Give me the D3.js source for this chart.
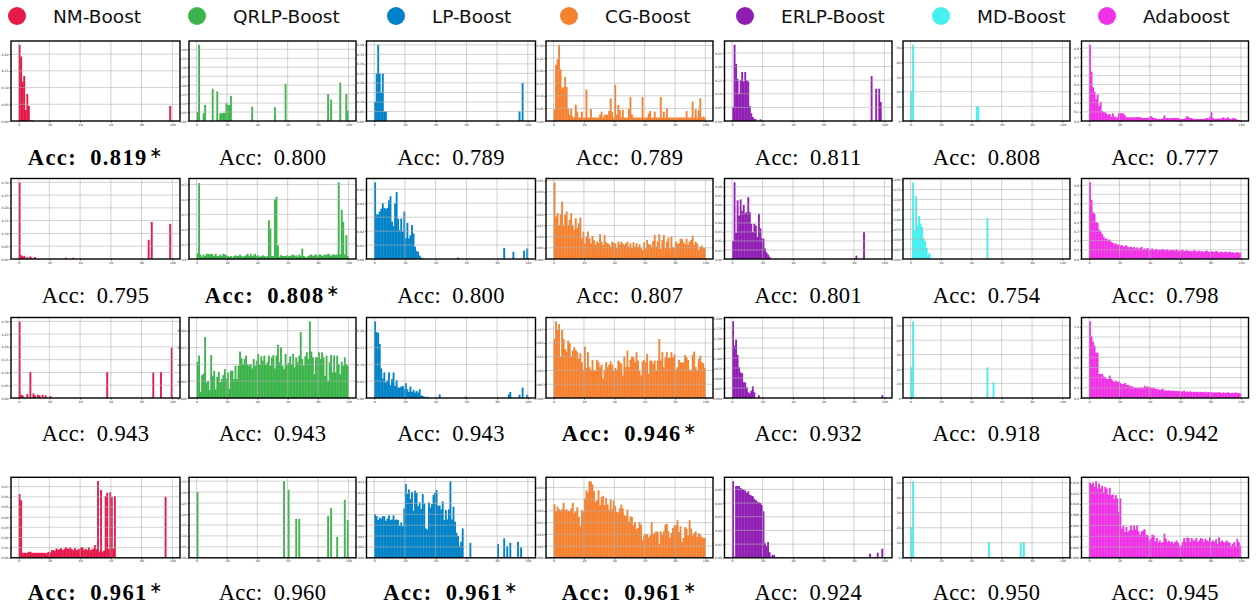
<!DOCTYPE html>
<html>
<head>
<meta charset="utf-8">
<script src="https://cdn.jsdelivr.net/npm/d3@7/dist/d3.min.js"></script>
<style>
  html, body { margin: 0; padding: 0; background: #fff; }
  svg { display: block; }
</style>
</head>
<body>
<svg id="chart" width="1256" height="607"></svg>
<script>
// ---- methods and colours ----
const methods = ["NM-Boost", "QRLP-Boost", "LP-Boost", "CG-Boost", "ERLP-Boost", "MD-Boost", "Adaboost"];
const colors = ["#e6194b", "#3cb44b", "#0082c8", "#f58231", "#911eb4", "#46f0f0", "#f032e6"];

// ---- test accuracy per dataset (row) and method (column) ----
const accR1 = [0.819, 0.800, 0.789, 0.789, 0.811, 0.808, 0.777];
const accR2 = [0.795, 0.808, 0.800, 0.807, 0.801, 0.754, 0.798];
const accR3 = [0.943, 0.943, 0.943, 0.946, 0.932, 0.918, 0.942];
const accR4 = [0.961, 0.960, 0.961, 0.961, 0.924, 0.950, 0.945];

// ---- x ticks (bin index, 100 bins) ----
const xTicks = [0, 20, 40, 60, 80, 100];

// ---- y tick step per panel (value of one grid step) ----
const yStepR1 = [0.05, 0.05, 0.05, 0.05, 0.05, 10, 0.1];
const yStepR2 = [0.05, 0.1, 0.01, 0.005, 0.01, 0.025, 0.1];
const yStepR3 = [0.05, 0.005, 0.05, 0.005, 0.025, 10, 0.2];
const yStepR4 = [0.01, 0.05, 0.002, 0.005, 0.01, 10, 0.002];

// ---- histograms, heights in grid steps.
//      Dense: 100 bin heights. Sparse: [bin, height] pairs. ----
const nmR1 = [[0,4.56],[1,3.86],[2,2.36],[3,2.7],[4,0.66],[5,1.62],[6,0.9],[8,0.06],[98,0.9]];
const qrlpR1 = [[0,1.0],[1,8.5],[4,0.85],[5,1.8],[10,3.6],[13,3.3],[15,0.85],[16,0.85],[17,0.9],[18,0.9],[19,2.0],[20,1.8],[21,1.8],[22,2.8],[36,1.6],[51,1.55],[58,4.15],[86,3.0],[88,2.4],[94,4.3],[98,3.0],[99,1.15]];
const lpR1 = [[0,2],[1,5],[2,8],[3,5],[4,3],[5,5],[6,1],[7,1],[94,1],[96,4]];
const cgR1 = [0.93,4.46,4.9,6.05,4.1,2.6,2.7,3.5,2.7,1.0,
  0.5,0.95,0.35,0.27,1.3,0.74,0.27,0.27,0.74,0.27,
  0.27,2.5,0.27,0.27,0.95,0.27,0.27,0.27,0.27,0.27,
  0.5,0.74,0.27,0.5,0.5,0.5,0.8,1.8,0.7,0.27,
  2.87,0.5,1.27,0.85,0.27,0.88,0.27,0.27,0.27,0.95,
  1.9,0.5,0.27,0.27,0.27,0.27,0.27,0.27,1.9,0.27,
  0.27,0.27,0.6,0.8,0.27,0.27,0.74,0.27,0.27,0.27,
  1.9,0.27,0.74,0.27,0.98,0.27,0.27,0.27,0.27,0.27,
  0.27,0.27,0.27,0.27,0.27,0.27,0.27,0.8,0.27,0.27,
  0.27,1.54,0.27,0.93,0.27,0.85,1.8,0.27,0.35,0.27];
const erlpR1 = [[0,1.0],[1,5.6],[2,4.2],[3,3.1],[4,2.0],[5,3.0],[6,3.6],[7,2.9],[8,3.6],[9,3.0],[10,2.9],[11,1.1],[12,0.57],[13,0.3],[14,0.15],[15,0.12],[18,0.12],[91,3.3],[94,2.37],[96,2.37],[97,1.4]];
const mdR1 = [[0,2.05],[1,5.2],[43,1.0],[44,1.0]];
const adaR1 = [8.35,5.4,3.7,3.2,2.4,2.9,1.65,2.1,1.1,0.95,
  0.95,0.8,0.66,0.77,0.48,0.84,0.5,0.4,0.4,0.84,
  0.84,0.84,0.84,0.62,0.4,0.4,0.4,0.4,0.4,0.4,
  0.4,0.45,0.4,0.45,0.33,0.33,0.33,0.33,0.33,0.4,
  0.55,0.4,0.33,0.33,0.22,0.22,0.22,0.22,0.3,0.62,
  0.3,0.33,0.3,0.3,0.33,0.33,0.33,0.33,0.33,0.25,
  0.22,0.22,0.22,0.33,0.55,0.4,0.33,0.33,0.22,0.22,
  0.22,0.22,0.22,0.22,0.22,0.22,0.3,0.33,0.25,0.48,
  0.95,0.33,0.22,0.26,0.26,0.26,0.26,0.3,0.4,0.26,
  0.3,0.4,0.22,0.22,0.3,0.33,0.22,0.15,0.11,0.11];

const nmR2 = [[0,6.0],[1,0.3],[2,0.2],[3,0.25],[5,0.15],[7,0.2],[8,0.1],[10,0.15],[30,0.1],[35,0.1],[84,1.5],[86,2.9],[98,2.75]];
const qrlpR2 = [0.4,5.1,0.29,0.15,0.29,0.2,0.35,0.35,0.3,0.35,
  0.3,0.2,0.35,0.2,0.2,0.3,0.2,0.35,0.3,0.25,
  0.2,0.15,0.2,0.1,0.2,0.25,0.2,0.2,0.3,0.2,
  0.15,0.2,0.25,0.35,0.2,0.35,0.2,0.25,0.35,0.2,
  0.25,0.15,0.2,0.25,0.2,0.15,0.2,2.6,2.07,0.2,
  0.2,4.0,4.17,0.9,0.15,0.25,0.2,0.2,0.2,0.25,
  0.2,0.2,0.25,0.3,0.2,0.25,0.15,0.3,0.2,0.7,
  0.2,0.15,0.1,0.2,0.25,0.3,0.2,0.25,0.3,0.2,
  0.3,0.3,0.2,0.25,0.3,0.25,0.35,0.3,0.2,0.3,
  0.3,0.25,0.3,5.15,0.3,3.3,2.5,0.3,1.6,0.2];
const lpR2 = [[0,5.5],[1,3.2],[2,3.2],[3,3.4],[4,3.6],[5,4.0],[6,3.67],[7,3.6],[8,3.67],[9,4.2],[10,4.5],[11,2.67],[12,2.36],[13,4.0],[14,4.8],[15,2.9],[16,2.07],[17,2.9],[18,2.0],[19,3.4],[20,1.48],[21,2.6],[22,1.48],[23,1.7],[24,2.43],[25,1.83],[26,0.88],[27,0.57],[28,0.52],[29,0.24],[30,0.1],[31,0.05],[54,0.1],[84,0.8],[90,0.52],[97,0.6],[99,0.76]];
const cgR2 = [6.84,3.79,4.09,3.04,4.0,5.13,3.04,3.94,4.24,3.04,
  3.49,4.09,3.04,2.6,3.64,2.75,3.19,3.7,1.85,2.45,
  1.4,2.0,2.45,1.85,1.4,2.06,1.67,1.25,1.55,1.4,
  2.21,1.55,1.25,2.15,1.49,1.4,1.31,1.1,1.55,1.43,
  1.4,1.01,1.55,1.31,1.55,1.37,1.25,1.4,1.55,1.07,
  1.4,1.01,1.49,1.1,1.4,1.07,1.31,1.01,0.78,1.49,
  0.96,1.7,1.31,1.31,1.1,1.61,2.15,1.1,1.55,2.21,
  0.9,1.7,2.15,1.01,1.55,1.91,0.96,1.97,1.07,1.01,
  1.55,1.37,1.4,1.82,1.76,1.49,1.31,1.82,1.25,1.55,
  1.7,2.09,1.25,1.55,1.37,0.81,1.1,1.19,1.01,0.96];
const erlpR2 = [[0,2.0],[1,8.5],[2,2.9],[3,6.5],[4,4.8],[5,6.6],[6,5.3],[7,6.0],[8,5.1],[9,5.2],[10,6.85],[11,5.2],[12,3.9],[13,3.0],[14,3.9],[15,3.7],[16,2.45],[17,5.0],[18,3.4],[19,2.3],[20,2.25],[21,1.17],[22,0.73],[23,0.5],[24,0.25],[81,0.37],[86,3.0]];
const mdR2 = [[1,7.73],[2,2.9],[3,6.33],[4,3.4],[5,4.33],[6,3.57],[7,3.23],[8,2.07],[9,1.8],[10,1.13],[11,0.47],[12,0.57],[50,4.13]];
const adaR2 = [8.3,6.4,5.1,4.9,4.0,3.9,3.2,3.0,2.7,2.4,
  2.2,2.2,2.0,2.1,1.85,1.75,1.6,1.7,1.5,1.6,
  1.45,1.5,1.35,1.4,1.5,1.3,1.25,1.35,1.2,1.3,
  1.15,1.25,1.1,1.2,1.3,1.05,1.15,1.1,1.2,1.0,
  1.1,1.15,1.0,1.05,1.1,0.95,1.05,1.0,1.1,0.95,
  1.0,1.05,0.9,1.0,0.95,1.0,0.9,1.05,0.85,0.95,
  0.9,1.0,0.85,0.9,0.95,0.85,0.9,0.8,0.9,0.95,
  0.8,0.85,0.9,0.8,0.85,0.75,0.85,0.9,0.8,0.75,
  0.85,0.8,0.75,0.85,0.8,0.7,0.8,0.75,0.7,0.8,
  0.75,0.7,0.8,0.7,0.75,0.65,0.7,0.75,0.65,0.7];

const nmR3 = [[0,6.0],[1,0.25],[2,0.2],[5,0.3],[7,2.05],[9,0.35],[10,0.2],[12,0.25],[13,0.2],[15,0.25],[17,0.2],[20,0.15],[57,2.05],[87,2.0],[92,2.05],[99,3.95]];
const qrlpR3 = [2.16,2.52,0.36,1.36,1.46,3.62,0.92,1.02,0.48,2.56,
  1.32,1.62,0.52,1.26,1.56,0.92,1.12,1.36,1.72,1.16,
  1.52,0.56,1.62,1.62,1.12,1.92,1.12,1.92,2.76,2.36,
  2.02,2.32,2.52,2.02,1.92,2.02,1.76,2.32,1.92,2.22,
  2.62,2.02,2.48,2.22,2.52,2.02,2.12,2.52,1.92,2.42,
  2.56,1.76,2.52,3.16,2.12,3.02,1.92,1.72,2.62,1.96,
  2.08,2.48,2.02,2.62,1.82,2.42,2.12,2.52,3.92,2.32,
  1.92,2.48,2.72,2.32,4.56,2.76,2.42,1.42,2.42,2.42,
  2.72,2.32,2.72,2.42,1.32,2.52,1.02,2.12,2.56,1.52,
  2.52,1.52,2.52,2.02,1.42,2.16,1.92,2.42,2.02,1.92];
const lpR3 = [[0,4.56],[1,3.92],[2,3.88],[3,3.22],[4,1.76],[5,1.16],[6,1.52],[7,0.92],[8,1.06],[9,1.52],[10,0.76],[11,1.12],[12,1.52],[13,0.72],[14,1.06],[15,0.62],[16,0.62],[17,0.68],[18,0.72],[19,0.56],[20,0.88],[21,0.52],[22,0.36],[23,0.68],[24,0.36],[25,0.48],[26,0.32],[27,0.42],[28,0.32],[29,0.52],[30,0.16],[31,0.12],[32,0.08],[34,0.08],[42,0.22],[59,0.08],[87,0.22],[88,0.36],[94,0.2],[96,0.62],[99,0.2]];
const cgR3 = [4.29,5.57,4.94,5.37,3.01,4.94,4.29,3.57,3.37,4.17,
  3.98,3.04,3.45,3.69,3.49,3.33,2.84,3.25,2.6,2.05,
  3.73,2.19,3.33,2.24,2.05,2.77,2.0,2.0,2.77,2.6,
  2.24,2.43,1.4,2.05,2.6,2.24,2.43,2.67,2.43,2.0,
  2.19,2.05,2.72,2.6,2.48,1.64,3.01,2.24,3.45,2.24,
  2.77,3.01,2.96,2.6,3.33,2.72,2.0,1.64,2.67,2.77,
  2.6,3.2,1.76,2.72,2.72,2.48,2.72,2.0,2.72,4.29,
  2.72,3.33,2.24,2.96,3.33,2.92,2.92,3.33,2.96,3.16,
  2.05,2.24,2.77,2.6,2.55,2.6,3.13,2.96,2.77,2.05,
  2.0,3.13,3.37,2.24,2.0,2.84,3.08,2.6,2.53,2.19];
const erlpR3 = [[0,7.67],[1,5.23],[2,5.83],[3,4.3],[4,3.07],[5,2.57],[6,2.47],[7,1.57],[8,1.57],[9,1.07],[10,0.57],[11,0.47],[12,0.73],[13,1.17],[14,0.57],[17,0.27],[98,0.27]];
const mdR3 = [[0,2.12],[1,5.3],[50,2.12],[54,1.08]];
const adaR3 = [7.54,6.07,5.54,5.15,4.46,4.46,2.36,2.36,2.36,2.13,
  2.03,1.87,1.87,2.2,1.87,1.7,1.54,1.7,1.61,1.61,
  1.48,1.38,1.38,1.48,1.28,1.28,1.21,1.15,1.15,0.98,
  1.05,0.95,1.05,0.95,1.05,0.95,1.21,1.05,1.15,1.05,
  1.05,0.95,1.05,0.89,0.89,0.82,0.82,0.82,0.89,0.72,
  0.75,0.72,0.75,0.72,0.7,0.72,0.68,0.7,0.66,0.7,
  0.62,0.66,0.72,0.6,0.64,0.6,0.66,0.58,0.62,0.6,
  0.58,0.62,0.56,0.6,0.58,0.56,0.62,0.55,0.58,0.56,
  0.6,0.52,0.56,0.55,0.52,0.58,0.52,0.5,0.55,0.5,
  0.52,0.56,0.48,0.5,0.52,0.48,0.55,0.46,0.5,0.48];

const nmR4 = [6.26,5.67,0.49,0.49,0.49,0.49,0.59,0.59,0.49,0.49,
  0.49,0.49,0.49,0.49,0.49,0.49,0.49,0.43,0.52,0.59,
  0.52,0.75,0.75,0.69,0.92,0.79,0.85,0.95,0.75,0.85,
  1.05,0.92,0.89,1.02,0.85,0.75,0.95,0.75,0.82,0.89,
  1.05,1.05,0.75,0.89,0.75,1.05,0.75,0.82,0.89,1.25,
  0.82,7.54,0.6,6.66,0.6,0.72,6.07,6.39,0.85,6.46,
  6.0,0.9,6.07,0,0,0,0,0,0,0,
  0,0,0,0,0,0,0,0,0,0,
  0,0,0,0,0,0,0,0,0,0,
  0,0,0,0,0,6.0,0,0,0,0];
const qrlpR4 = [[0,6.0],[57,7.0],[60,6.2],[65,3.55],[67,3.55],[86,3.8],[88,4.55],[92,1.9],[97,5.3],[99,3.45]];
const lpR4 = [4.0,3.83,3.47,3.7,3.6,3.83,3.83,3.4,3.6,3.9,
  3.47,3.53,3.9,3.47,3.53,3.47,2.94,3.25,2.9,4.54,
  6.78,5.9,6.29,5.4,6.07,4.33,6.17,5.98,4.75,5.1,
  4.48,5.86,5.0,2.7,2.6,5.1,4.63,4.94,5.77,5.98,
  6.23,4.75,4.82,4.45,5.18,3.47,4.39,3.53,4.45,7.05,
  3.53,4.69,3.31,2.3,2.0,1.07,1.47,2.7,0,0,
  0,0,1.38,0,0,0,0,0,0,0,
  0,0,0,0,0,0,0,0,0,0,
  1.26,0,0,0,1.78,0,1.07,0,1.38,0,
  0,0,0,1.47,0,0.95,0,0,0,0];
const cgR4 = [4.57,3.97,4.37,4.14,4.03,4.14,4.69,4.09,4.14,4.0,
  3.97,4.2,4.69,3.8,3.97,4.31,3.51,2.71,4.06,3.97,
  5.06,5.77,5.57,6.54,6.49,6.26,5.69,4.77,4.91,5.77,
  4.49,5.17,5.29,4.49,5.11,4.54,4.11,4.97,4.14,4.89,
  4.43,3.91,3.86,4.23,4.54,4.2,3.63,3.54,4.11,3.11,
  3.54,3.49,2.77,3.06,2.43,2.54,3.06,2.83,1.49,1.91,
  2.03,2.03,1.74,1.91,3.06,2.03,2.14,2.26,2.2,1.2,
  2.26,1.97,2.26,2.83,2.91,2.26,1.69,2.11,2.54,2.77,
  2.77,3.2,2.2,2.69,1.34,1.69,2.63,2.49,1.91,3.2,
  2.49,1.91,2.11,2.26,1.77,2.11,1.97,1.77,1.69,1.69];
const erlpR4 = [[0,5.6],[1,0.1],[2,5.24],[3,5.24],[4,5.24],[5,5.1],[6,5.0],[7,5.0],[8,4.9],[9,4.75],[10,4.85],[11,4.6],[12,4.55],[13,4.5],[14,4.3],[15,4.2],[16,4.1],[17,4.05],[18,4.0],[19,3.85],[20,3.4],[21,1.07],[22,0.85],[23,1.15],[24,0.41],[25,0.1],[26,0.22],[27,0.2],[29,0.05],[90,0.3],[95,0.37],[98,0.66]];
const mdR4 = [[0,2.04],[1,5.1],[51,1.04],[72,1.04],[74,1.04]];
const adaR4 = [6.99,6.8,6.96,6.58,7.11,6.43,6.89,6.43,6.68,6.06,
  6.58,6.43,5.87,6.49,5.81,5.87,5.43,5.81,5.5,4.25,
  5.5,2.7,3.01,2.39,2.86,2.39,2.55,3.01,2.55,3.01,
  2.64,3.01,2.45,2.14,2.45,2.55,2.64,2.14,2.08,1.61,
  1.77,2.14,2.08,1.52,1.83,1.4,1.61,1.4,1.46,2.24,
  1.77,1.46,1.58,1.4,1.52,1.3,1.46,1.61,1.4,1.09,
  1.15,1.46,1.83,1.46,1.89,1.83,1.46,1.83,1.61,1.61,
  1.83,1.46,1.61,1.83,1.77,1.46,1.77,1.61,1.52,1.89,
  1.46,1.61,1.46,1.71,1.3,1.89,1.46,1.61,1.46,1.4,
  1.61,1.46,1.4,1.09,1.3,1.46,1.09,1.77,1.46,1.15];

const histRows = [
  [nmR1, qrlpR1, lpR1, cgR1, erlpR1, mdR1, adaR1],
  [nmR2, qrlpR2, lpR2, cgR2, erlpR2, mdR2, adaR2],
  [nmR3, qrlpR3, lpR3, cgR3, erlpR3, mdR3, adaR3],
  [nmR4, qrlpR4, lpR4, cgR4, erlpR4, mdR4, adaR4]
];
const accRows = [accR1, accR2, accR3, accR4];
const stepRows = [yStepR1, yStepR2, yStepR3, yStepR4];

// ---- layout ----
const colLeft  = [11, 189, 366.5, 546, 724.5, 903, 1081.5];
const colRight = [180, 356, 535.5, 713, 892, 1070, 1248.5];
const rowTop    = [41, 178.5, 317.5, 477.3];
const rowBottom = [121, 259, 398, 557.8];
const accBase   = [164.5, 302.5, 440.5, 599.5];

const svg = d3.select("#chart");

// ---- legend ----
const legendCx = [17, 197, 396, 569, 745, 941, 1107];
const legend = svg.append("g");
methods.forEach((m, i) => {
  legend.append("circle").attr("cx", legendCx[i]).attr("cy", 16).attr("r", 9).attr("fill", colors[i]);
  legend.append("text").attr("x", legendCx[i] + 36).attr("y", 23)
    .attr("font-family", "DejaVu Sans").attr("font-size", 18.5).attr("fill", "#111").text(m);
});

function toBins(d) {
  if (d.length && Array.isArray(d[0])) return d.map(p => ({ i: p[0], v: p[1] }));
  return d.map((v, i) => ({ i, v }));
}

function decimals(step) {
  const s = String(step).split(".")[1];
  return s ? s.length : 0;
}

histRows.forEach((row, r) => {
  const rowMax = d3.max(accRows[r]);
  row.forEach((data, c) => {
    const L = colLeft[c], R = colRight[c], T = rowTop[r], B = rowBottom[r];
    const bins = toBins(data).filter(b => b.v > 0);
    const vmax = d3.max(bins, b => b.v);
    const x = d3.scaleLinear().domain([-5, 105]).range([L, R]);
    const y = d3.scaleLinear().domain([0, vmax * 1.05]).range([B, T]);
    const step = stepRows[r][c];
    const yTicks = d3.range(0, Math.floor(vmax * 1.05) + 1);
    const fmt = d3.format("." + decimals(step) + "f");
    const g = svg.append("g");

    // bars
    g.append("g").selectAll("rect").data(bins).join("rect")
      .attr("x", b => x(b.i))
      .attr("width", b => x(b.i + 1) - x(b.i) + 0.35)
      .attr("y", b => y(b.v))
      .attr("height", b => B - y(b.v))
      .attr("fill", colors[c]);

    // grid above the bars
    const grid = g.append("g").attr("stroke", "#b0b0b0").attr("stroke-opacity", 0.65).attr("stroke-width", 0.9);
    grid.selectAll("line.v").data(xTicks).join("line").attr("class", "v")
      .attr("x1", d => x(d)).attr("x2", d => x(d)).attr("y1", T).attr("y2", B);
    grid.selectAll("line.h").data(yTicks.filter(k => k > 0)).join("line").attr("class", "h")
      .attr("x1", L).attr("x2", R).attr("y1", d => y(d)).attr("y2", d => y(d));

    // axes with tiny labels
    const ax = g.append("g").attr("transform", `translate(${L},0)`)
      .call(d3.axisLeft(y).tickValues(yTicks).tickSize(1.6).tickPadding(0.8).tickFormat(k => fmt(k * step)));
    const bx = g.append("g").attr("transform", `translate(0,${B})`)
      .call(d3.axisBottom(x).tickValues(xTicks).tickSize(1.6).tickPadding(0.8).tickFormat(d3.format("d")));
    [ax, bx].forEach(a => {
      a.select(".domain").remove();
      a.selectAll("line").attr("stroke", "#222").attr("stroke-width", 0.6);
      a.selectAll("text").attr("font-size", 3.2).attr("font-family", "DejaVu Sans").attr("fill", "#333");
    });

    // frame
    g.append("rect").attr("x", L).attr("y", T).attr("width", R - L).attr("height", B - T)
      .attr("fill", "none").attr("stroke", "#000").attr("stroke-width", 1.4);

    // accuracy caption; the best score of each row is set in bold with a star
    const acc = accRows[r][c];
    const best = acc === rowMax;
    const t = svg.append("text")
      .attr("x", (L + R) / 2 + (best ? 0 : 0)).attr("y", accBase[r])
      .attr("text-anchor", "middle")
      .attr("font-family", "Liberation Serif").attr("font-size", 22.5).attr("fill", "#000")
      .attr("font-weight", best ? "bold" : "normal")
      .attr("letter-spacing", best ? 1.4 : 0.4);
    t.append("tspan").text("Acc:");
    t.append("tspan").attr("dx", best ? 13 : 11).text(d3.format(".3f")(acc));
    if (best) {
      t.append("tspan").attr("font-weight", "normal").attr("font-size", 16).attr("dx", 1).attr("dy", -7).text("∗");
    }
  });
});
</script>
</body>
</html>
